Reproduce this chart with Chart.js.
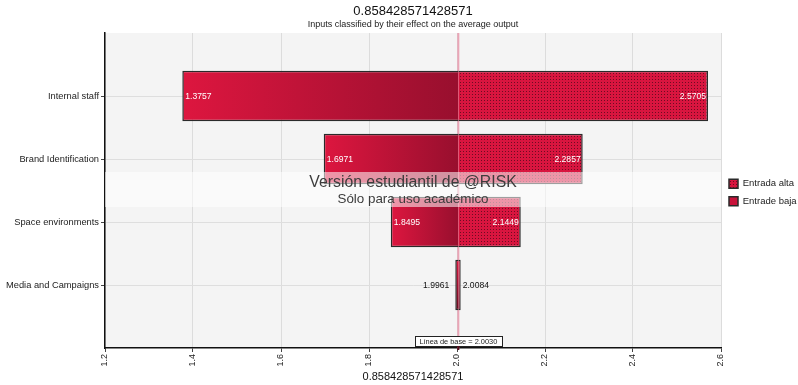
<!DOCTYPE html>
<html>
<head>
<meta charset="utf-8">
<title>Tornado</title>
<script src="https://cdn.jsdelivr.net/npm/chart.js@4.4.1/dist/chart.umd.min.js"></script>
<style>
  html, body { margin: 0; padding: 0; background: #ffffff; }
  canvas { display: block; }
</style>
</head>
<body>
<canvas id="chart" width="798" height="385"></canvas>
<script>
// ---- data ----
const categories = ['Internal staff', 'Brand Identification', 'Space environments', 'Media and Campaigns'];
const lowValues  = [1.3757, 1.6971, 1.8495, 1.9961];
const highValues = [2.5705, 2.2857, 2.1449, 2.0084];
const baseline = 2.0030;
const xTicks = [1.2, 1.4, 1.6, 1.8, 2.0, 2.2, 2.4, 2.6];
const seriesNames = ['Entrada alta', 'Entrade baja'];
const chartTitle = '0.858428571428571';
const chartSubtitle = 'Inputs classified by their effect on the average output';
const axisTitle = '0.858428571428571';
const baselineText = 'Línea de base = 2.0030';
const watermarkLines = ['Versión estudiantil de @RISK', 'Sólo para uso académico'];

// ---- derived tables for the library ----
// empty slots at both ends keep the rows away from the plot edges
const rowLabels = [''].concat(categories, ['']);
const highBars = [null].concat(highValues.map(v => [baseline, v]), [null]);
const lowBars  = [null].concat(lowValues.map(v => [baseline, v]), [null]);

Chart.defaults.font.family = "'Liberation Sans', Arial, sans-serif";
Chart.defaults.color = '#222';

// dotted fill for the "high input" side
function makeDotPattern() {
  const c = document.createElement('canvas');
  c.width = 3; c.height = 3;
  const g = c.getContext('2d');
  g.fillStyle = '#d8153f';
  g.fillRect(0, 0, 3, 3);
  g.fillStyle = '#6e0c22';
  g.fillRect(1, 1, 1, 1);
  return g.createPattern(c, 'repeat');
}
const dotPattern = makeDotPattern();

// narrow bars get a top-to-bottom shade instead of a texture
function narrowFill(chart, dataIndex) {
  const ys = chart.scales.y;
  const cy = ys.getPixelForValue(dataIndex);
  const g = chart.ctx.createLinearGradient(0, cy - 25, 0, cy + 25);
  g.addColorStop(0, '#dd163f');
  g.addColorStop(1, '#6a0a20');
  return g;
}

function spanPixels(chart, d) {
  const xs = chart.scales.x;
  return [xs.getPixelForValue(Math.min(d[0], d[1])), xs.getPixelForValue(Math.max(d[0], d[1]))];
}

function isNarrow(chart, i) {
  const [a] = spanPixels(chart, lowBars[i]);
  const [, b] = spanPixels(chart, highBars[i]);
  return b - a < 12;
}

function highFill(ctx) {
  const chart = ctx.chart;
  if (ctx.type !== 'data' || !chart.scales || !chart.scales.x) return dotPattern;
  const d = highBars[ctx.dataIndex];
  if (!d) return dotPattern;
  return isNarrow(chart, ctx.dataIndex) ? narrowFill(chart, ctx.dataIndex) : dotPattern;
}

// horizontal shade for the "low input" side: bright at the outer end, dark at the baseline
function lowFill(ctx) {
  const chart = ctx.chart;
  if (ctx.type !== 'data' || !chart.scales || !chart.scales.x) return '#c8123a';
  const d = lowBars[ctx.dataIndex];
  if (!d) return '#c8123a';
  if (isNarrow(chart, ctx.dataIndex)) return narrowFill(chart, ctx.dataIndex);
  const [x0, x1] = spanPixels(chart, d);
  const g = chart.ctx.createLinearGradient(x0, 0, x1, 0);
  g.addColorStop(0, '#dd163f');
  g.addColorStop(1, '#980f2e');
  return g;
}

// plot background
const plotBackground = {
  id: 'plotBackground',
  beforeDraw(chart) {
    const {ctx, chartArea: a} = chart;
    ctx.save();
    ctx.fillStyle = '#f4f4f4';
    ctx.fillRect(a.left, a.top, a.right - a.left, a.bottom - a.top);
    ctx.restore();
  }
};

// vertical baseline through the plot
const baselineLine = {
  id: 'baselineLine',
  beforeDatasetsDraw(chart) {
    const {ctx, chartArea: a, scales: {x}} = chart;
    const px = x.getPixelForValue(baseline);
    ctx.save();
    ctx.strokeStyle = 'rgba(232,150,170,0.85)';
    ctx.lineWidth = 2;
    ctx.beginPath();
    ctx.moveTo(px, a.top);
    ctx.lineTo(px, a.bottom);
    ctx.stroke();
    ctx.restore();
  }
};

// value labels at both ends of every bar, then the watermark band and the baseline tag
const overlays = {
  id: 'overlays',
  afterDatasetsDraw(chart) {
    const {ctx, chartArea: a, scales: {x, y}} = chart;
    ctx.save();
    ctx.font = "8.6px 'Liberation Sans', Arial, sans-serif";
    ctx.textBaseline = 'middle';
    const bx = x.getPixelForValue(baseline);
    categories.forEach((cat, i) => {
      const cy = y.getPixelForValue(i + 1) + 0.5;
      const lo = lowValues[i], hi = highValues[i];
      const lx = x.getPixelForValue(lo), hx = x.getPixelForValue(hi);
      const loText = lo.toFixed(4), hiText = hi.toFixed(4);
      const loW = ctx.measureText(loText).width;
      const hiW = ctx.measureText(hiText).width;
      if (bx - lx > loW + 8) {
        ctx.fillStyle = '#ffffff'; ctx.textAlign = 'left';
        ctx.fillText(loText, lx + 3, cy);
      } else {
        ctx.fillStyle = '#111111'; ctx.textAlign = 'right';
        ctx.fillText(loText, lx - 6, cy);
      }
      if (hx - bx > hiW + 8) {
        ctx.fillStyle = '#ffffff'; ctx.textAlign = 'right';
        ctx.fillText(hiText, hx - 2, cy);
      } else {
        ctx.fillStyle = '#111111'; ctx.textAlign = 'left';
        ctx.fillText(hiText, hx + 2, cy);
      }
    });

    // watermark band
    ctx.fillStyle = 'rgba(255,255,255,0.55)';
    ctx.fillRect(a.left, 172, a.right - a.left, 35);
    const mid = (a.left + a.right) / 2;
    ctx.fillStyle = '#3c3c3c';
    ctx.textAlign = 'center';
    ctx.textBaseline = 'alphabetic';
    ctx.font = "15.8px 'Liberation Sans', Arial, sans-serif";
    ctx.fillText(watermarkLines[0], mid, 187);
    ctx.font = "13.4px 'Liberation Sans', Arial, sans-serif";
    ctx.fillText(watermarkLines[1], mid, 203);

    // baseline tag
    ctx.font = "7.4px 'Liberation Sans', Arial, sans-serif";
    const tw = ctx.measureText(baselineText).width;
    const bw = tw + 9, bh = 10;
    const top = a.bottom - 12;
    ctx.fillStyle = '#ffffff';
    ctx.fillRect(bx - bw / 2, top, bw, bh);
    ctx.strokeStyle = '#222222';
    ctx.lineWidth = 1;
    ctx.strokeRect(Math.round(bx - bw / 2) + 0.5, top + 0.5, Math.round(bw), bh);
    ctx.fillStyle = '#222222';
    ctx.textBaseline = 'middle';
    ctx.fillText(baselineText, bx, top + bh / 2 + 0.5);
    ctx.fillStyle = '#5a0a1c';
    ctx.fillRect(bx - 1, a.bottom - 2, 2, 4);
    ctx.restore();
  }
};

new Chart(document.getElementById('chart'), {
  type: 'bar',
  data: {
    labels: rowLabels,
    datasets: [
      {
        label: seriesNames[0],
        data: highBars,
        backgroundColor: highFill,
        borderColor: '#2a2a2a',
        borderWidth: 1.5,
        borderSkipped: 'left',
        grouped: false,
        categoryPercentage: 1,
        barPercentage: 0.8
      },
      {
        label: seriesNames[1],
        data: lowBars,
        backgroundColor: lowFill,
        borderColor: '#2a2a2a',
        borderWidth: 1.5,
        borderSkipped: 'right',
        grouped: false,
        categoryPercentage: 1,
        barPercentage: 0.8
      }
    ]
  },
  options: {
    indexAxis: 'y',
    responsive: false,
    animation: false,
    devicePixelRatio: 1,
    layout: { padding: 0 },
    scales: {
      x: {
        type: 'linear',
        min: xTicks[0],
        max: xTicks[xTicks.length - 1],
        afterBuildTicks(scale) { scale.ticks = xTicks.map(v => ({ value: v })); },
        afterFit(scale) { scale.height = 37; },
        ticks: {
          autoSkip: false,
          minRotation: 90,
          maxRotation: 90,
          padding: 2,
          color: '#222',
          font: { size: 9 },
          callback: v => Number(v).toFixed(1)
        },
        grid: { color: '#dcdcdc', lineWidth: 1, tickLength: 4, tickColor: '#444' },
        border: { display: true, color: '#111', width: 1.5 },
        title: {
          display: true,
          text: axisTitle,
          color: '#111',
          font: { size: 11 },
          padding: { top: 0, bottom: 1.5 }
        }
      },
      y: {
        type: 'category',
        offset: false,
        afterFit(scale) { scale.width = 105; },
        ticks: { color: '#222', font: { size: 9.3 }, padding: 2, autoSkip: false },
        grid: {
          offset: false,
          color: ctx => (ctx.tick && ctx.tick.label === '') ? 'rgba(0,0,0,0)' : '#dedede',
          tickColor: ctx => (ctx.tick && ctx.tick.label === '') ? 'rgba(0,0,0,0)' : '#444',
          tickLength: 4
        },
        border: { display: true, color: '#111', width: 1.5 }
      }
    },
    plugins: {
      title: {
        display: true,
        text: chartTitle,
        fullSize: false,
        color: '#111',
        font: { size: 13, weight: 'normal' },
        padding: { top: 4, bottom: 0 }
      },
      subtitle: {
        display: true,
        text: chartSubtitle,
        fullSize: false,
        color: '#222',
        font: { size: 9 },
        padding: { top: 0, bottom: 2.6 }
      },
      legend: {
        position: 'right',
        align: 'center',
        maxWidth: 77,
        labels: {
          boxWidth: 9,
          boxHeight: 9,
          padding: 8,
          color: '#222',
          font: { size: 9.5 }
        }
      },
      tooltip: { enabled: false }
    }
  },
  plugins: [plotBackground, baselineLine, overlays]
});
</script>
</body>
</html>
